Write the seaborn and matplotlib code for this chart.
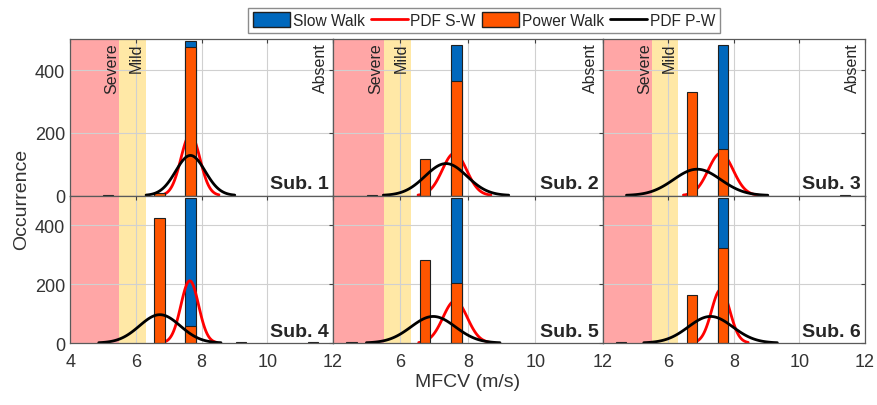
import numpy as np
import pandas as pd
import matplotlib
matplotlib.use("Agg")
import matplotlib.pyplot as plt
import seaborn as sns
from matplotlib.patches import Patch
from matplotlib.lines import Line2D

# histogram bins (MFCV, m/s) and counts
subjects = ["Sub. 1", "Sub. 2", "Sub. 3", "Sub. 4", "Sub. 5", "Sub. 6"]
bin_centers = [4.55, 5.15, 6.72, 7.66, 9.2, 11.4]
slow_counts = [
    [0, 0, 0, 493, 0, 0],
    [0, 0, 0, 482, 0, 0],
    [0, 0, 0, 482, 0, 0],
    [0, 0, 0, 490, 0, 0],
    [0, 0, 0, 490, 0, 0],
    [0, 0, 0, 490, 0, 0],
]
power_counts = [
    [0, 3, 9, 473, 0, 0],
    [0, 3, 116, 366, 0, 0],
    [0, 0, 331, 150, 0, 3],
    [0, 0, 424, 59, 3, 3],
    [3, 0, 281, 202, 0, 0],
    [3, 0, 164, 321, 0, 0],
]
# fitted normal PDFs: mean, sd, peak height
sw_mean = [7.66, 7.6, 7.6, 7.64, 7.62, 7.6]
sw_sd = [0.29, 0.36, 0.38, 0.27, 0.36, 0.28]
sw_peak = [195, 135, 135, 211, 143, 181]
pw_mean = [7.66, 7.35, 6.88, 6.73, 6.97, 7.29]
pw_sd = [0.45, 0.62, 0.72, 0.62, 0.66, 0.68]
pw_peak = [128, 102, 84, 96, 90, 90]

blue = "#0068BD"
orange = "#FF5500"
bar_w = 0.31

sns.set_style("white")
plt.rcParams["font.family"] = ["Liberation Sans", "DejaVu Sans"]

fig = plt.figure(figsize=(8.77, 4.06), dpi=100)
gs = fig.add_gridspec(2, 3, left=0.080, right=0.986, top=0.9015, bottom=0.1527,
                      wspace=0, hspace=0, width_ratios=[263, 270, 262],
                      height_ratios=[156, 147])


def draw_bars(ax, sub, col, colour, z):
    if len(sub) == 0:
        return
    if len(sub) > 1:
        w = bar_w / np.diff(sub.mfcv.values).min()
    else:
        w = bar_w
    sns.barplot(data=sub, x="mfcv", y=col, native_scale=True, width=w,
                color=colour, saturation=1, edgecolor="#202020", linewidth=0.8,
                errorbar=None, ax=ax, zorder=z)


def draw_pdf(ax, m, sd, pk, colour, z):
    xs = np.linspace(m - 3 * sd, m + 3 * sd, 120)
    ys = pk * np.exp(-0.5 * ((xs - m) / sd) ** 2)
    sns.lineplot(x=xs, y=ys, color=colour, lw=2, ax=ax, zorder=z)


for i, name in enumerate(subjects):
    r, c = divmod(i, 3)
    ax = fig.add_subplot(gs[r, c])
    ax.axvspan(4, 5.5, color="#FFA6A6", lw=0, zorder=0)
    ax.axvspan(5.5, 6.3, color="#FFE8A6", lw=0, zorder=0)

    df = pd.DataFrame({"mfcv": bin_centers, "slow": slow_counts[i],
                       "power": power_counts[i]})
    draw_bars(ax, df[df.slow > 0], "slow", blue, 3)
    draw_pdf(ax, sw_mean[i], sw_sd[i], sw_peak[i], "red", 4)
    draw_bars(ax, df[df.power > 0], "power", orange, 5)
    draw_pdf(ax, pw_mean[i], pw_sd[i], pw_peak[i], "black", 6)

    ax.set_xlim(4, 12)
    ax.set_ylim(0, 500)
    ax.set_xticks([4, 6, 8, 10, 12])
    ax.set_yticks([0, 200, 400])
    ax.grid(True, color="#D0D0D0", lw=0.8)
    for g in ax.get_xgridlines() + ax.get_ygridlines():
        g.set_zorder(1)
    ax.tick_params(direction="in", length=3, color="#404040", labelsize=13,
                   labelcolor="#333333", top=True, right=True)
    ax.tick_params(axis="x", pad=7)
    for sp in ax.spines.values():
        sp.set_color("#5A5A5A")
        sp.set_linewidth(0.9)
        sp.set_zorder(7)
    ax.set_xlabel("")
    ax.set_ylabel("")
    if r == 0:
        ax.set_xticklabels([])
        ax.text(5.28, 490, "Severe", rotation=90, ha="center", va="top", fontsize=11.5)
        ax.text(6.02, 490, "Mild", rotation=90, ha="center", va="top", fontsize=11.5)
        ax.text(11.62, 490, "Absent", rotation=90, ha="center", va="top", fontsize=11.5)
    elif c > 0:
        ax.set_xticklabels(["", "6", "8", "10", "12"])
    if c > 0:
        ax.set_yticklabels([])
    ax.text(0.985, 0.05, name, transform=ax.transAxes, ha="right", va="baseline",
            fontsize=14, fontweight="bold", zorder=8)

fig.text(0.025, 0.51, "Occurrence", rotation=90, ha="center", va="center",
         fontsize=14, color="#333333")
fig.text(0.533, 0.057, "MFCV (m/s)", ha="center", va="center",
         fontsize=14, color="#333333")

handles = [Patch(facecolor=blue, edgecolor="#202020", label="Slow Walk"),
           Line2D([], [], color="red", lw=2, label="PDF S-W"),
           Patch(facecolor=orange, edgecolor="#202020", label="Power Walk"),
           Line2D([], [], color="black", lw=2, label="PDF P-W")]
leg = fig.legend(handles=handles, ncol=4, loc="upper center",
                 bbox_to_anchor=(0.552, 0.998), fontsize=11.2, frameon=True,
                 fancybox=False, edgecolor="#707070", handlelength=2.4,
                 handleheight=1.1, handletextpad=0.15, columnspacing=0.4,
                 borderpad=0.3)
leg.get_frame().set_linewidth(1.0)

fig.savefig("out.png", dpi=100)
